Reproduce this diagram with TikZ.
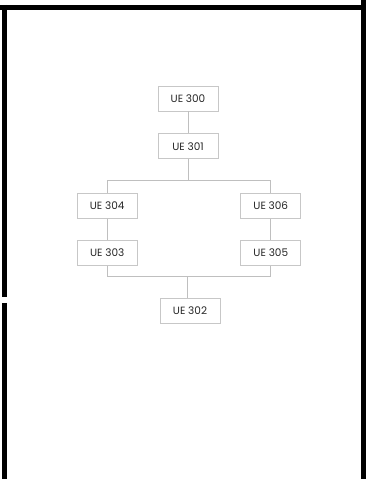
\documentclass[tikz,border=0pt]{standalone}
\usepackage{fontspec}
\setmainfont{Poppins}
\usetikzlibrary{positioning}

\begin{document}
\begin{tikzpicture}[
  x=1pt, y=1pt,
  uebox/.style={rectangle, draw=black!22, line width=0.8pt,
               minimum width=60pt, minimum height=25pt, inner sep=2pt,
               font=\fontsize{10.5}{12}\selectfont, text=black!85},
  link/.style={draw=black!25, line width=0.8pt},
  frame/.style={line width=5pt, black}
]
\useasboundingbox (0,0) rectangle (372,479);
% frame
\draw[frame] (0,471.5) -- (365.5,471.5);
\draw[frame] (363,479) -- (363,0);
\draw[frame] (4,474) -- (4,182);
\draw[frame] (4,176) -- (4,0);
% boxes
\node[uebox] (u300) at (188,380.5) {UE 300};
\node[uebox, below=22pt of u300] (u301) {UE 301};
\node[uebox, below left=34pt and 20pt of u301] (u304) {UE 304};
\node[uebox, below right=34pt and 22pt of u301] (u306) {UE 306};
\node[uebox, below=21pt of u304] (u303) {UE 303};
\node[uebox, below=21pt of u306] (u305) {UE 305};
\node[uebox] (u302) at (190,168.5) {UE 302};
% connectors
\path (u301.south) ++(0,-21) coordinate (fork);
\path (u302.north) ++(-3,21) coordinate (join);
\draw[link] (u300) -- (u301);
\draw[link] (u301) -- (fork);
\draw[link] (u304) |- (fork) -| (u306);
\draw[link] (u304) -- (u303);
\draw[link] (u306) -- (u305);
\draw[link] (u303) |- (join) -| (u305);
\draw[link] (join) -- (join |- u302.north);
\end{tikzpicture}
\end{document}
